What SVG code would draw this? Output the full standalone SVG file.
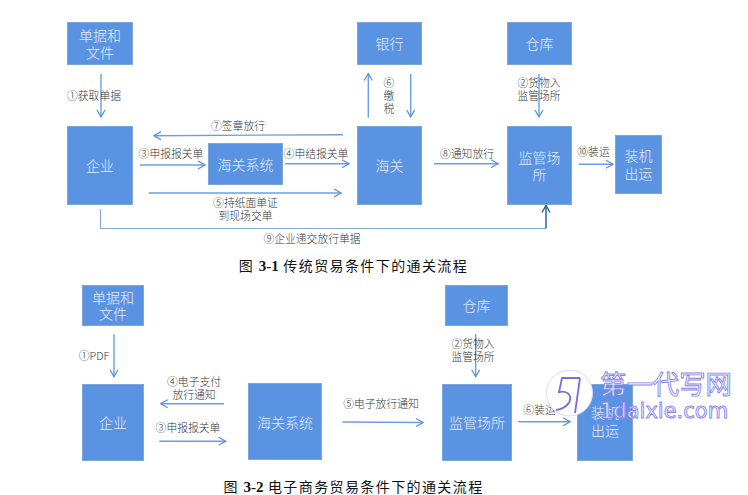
<svg xmlns="http://www.w3.org/2000/svg" width="748" height="495" viewBox="0 0 748 495">
<defs>
<marker id="arr" viewBox="0 0 10 10" refX="9" refY="5" markerWidth="10" markerHeight="10" markerUnits="userSpaceOnUse" orient="auto"><path d="M2,1 L9,5 L2,9" fill="none" stroke="#5b93dc" stroke-width="1.3"/></marker>
<marker id="arrd" viewBox="0 0 10 10" refX="9" refY="5" markerWidth="10" markerHeight="10" markerUnits="userSpaceOnUse" orient="auto"><path d="M2,1 L9,5 L2,9" fill="none" stroke="#2f6199" stroke-width="1.5"/></marker>
</defs>
<style>
text{font-family:"Liberation Serif","Noto Sans CJK SC",serif}
.b{fill:#5b93e3;stroke:#7ea6d8;stroke-width:1}
.n{font-family:"Noto Sans CJK SC",sans-serif;font-size:14px;font-weight:300;fill:#e3ecfa;text-anchor:middle}
.l{font-size:10.8px;font-weight:300;fill:#333;text-anchor:middle;font-family:"Noto Sans CJK SC","Liberation Serif",serif}
.c{font-size:14px;fill:#111;text-anchor:middle;font-family:"Noto Sans CJK SC",serif;letter-spacing:1.4px}
.c tspan{font-family:"Liberation Serif",serif;font-weight:bold;font-size:15px;letter-spacing:0}
.a{fill:none;stroke:#6a9fe0;stroke-width:1.4;marker-end:url(#arr)}
</style>
<rect width="748" height="495" fill="#fff"/>
<g id="fig1-docs"><rect class="b" x="67.5" y="22.5" width="65" height="42"/><text class="n" x="100" y="41">单据和</text><text class="n" x="100" y="58">文件</text></g>
<g id="fig1-enterprise"><rect class="b" x="67.5" y="126.5" width="65" height="78"/><text class="n" x="100" y="171">企业</text></g>
<g id="fig1-system"><rect class="b" x="208.5" y="143.5" width="74" height="41"/><text class="n" x="245.5" y="170">海关系统</text></g>
<g id="fig1-bank"><rect class="b" x="357.5" y="22.5" width="64" height="42"/><text class="n" x="389.5" y="49">银行</text></g>
<g id="fig1-customs"><rect class="b" x="357.5" y="126.5" width="64" height="78"/><text class="n" x="389.5" y="171">海关</text></g>
<g id="fig1-warehouse"><rect class="b" x="507.5" y="22.5" width="64" height="42"/><text class="n" x="539.5" y="49">仓库</text></g>
<g id="fig1-site"><rect class="b" x="507.5" y="126.5" width="64" height="78"/><text class="n" x="539.5" y="163">监管场</text><text class="n" x="539.5" y="180">所</text></g>
<g id="fig1-ship"><rect class="b" x="615.5" y="135.5" width="46" height="58"/><text class="n" x="638.5" y="161">装机</text><text class="n" x="638.5" y="179">出运</text></g>
<g id="connectors-fig1">
<path class="a" d="M101,74 V117"/>
<path class="a" d="M343,134.7 L154,135.7"/>
<path class="a" d="M140,165 H205"/>
<path class="a" d="M285,163.7 H349"/>
<path class="a" d="M148.7,193 H341"/>
<path d="M100.5,209 V228.5 H545" fill="none" stroke="#86a9d6" stroke-width="1.2"/>
<path d="M546,228.5 V205.5" fill="none" stroke="#2f6199" stroke-width="1.5" marker-end="url(#arrd)"/>
<path class="a" d="M368.3,117.7 V73.5"/>
<path class="a" d="M410.7,74 V117"/>
<path class="a" d="M434,163.7 H498"/>
<path class="a" d="M539,74 V117"/>
<path class="a" d="M578.7,164.3 H613"/>
</g>
<g id="labels-fig1">
<text class="l" x="94" y="100">①获取单据</text>
<text class="l" x="238" y="130">⑦签章放行</text>
<text class="l" x="171" y="158">③申报报关单</text>
<text class="l" x="316" y="158">④申结报关单</text>
<text class="l" x="245.5" y="207">⑤持纸面单证</text>
<text class="l" x="245.5" y="220">到现场交单</text>
<text class="l" x="312" y="243">⑨企业递交放行单据</text>
<text class="l" x="389" y="87">⑥</text>
<text class="l" x="389" y="100">缴</text>
<text class="l" x="389" y="113">税</text>
<text class="l" x="539" y="87">②货物入</text>
<text class="l" x="539" y="100">监管场所</text>
<text class="l" x="467" y="158">⑧通知放行</text>
<text class="l" x="593.5" y="156">⑩装运</text>
</g>
<text class="c" x="353.5" y="271">图 <tspan>3-1</tspan> 传统贸易条件下的通关流程</text>
<g id="fig2-docs"><rect class="b" x="82.5" y="285.5" width="61" height="40"/><text class="n" x="113" y="303">单据和</text><text class="n" x="113" y="319">文件</text></g>
<g id="fig2-enterprise"><rect class="b" x="82.5" y="384.5" width="61" height="76"/><text class="n" x="113" y="428">企业</text></g>
<g id="fig2-system"><rect class="b" x="248.5" y="383.5" width="73" height="76"/><text class="n" x="285" y="428">海关系统</text></g>
<g id="fig2-warehouse"><rect class="b" x="445.5" y="285.5" width="62" height="40"/><text class="n" x="476.5" y="311">仓库</text></g>
<g id="fig2-site"><rect class="b" x="442.5" y="384.5" width="69" height="76"/><text class="n" x="477" y="428">监管场所</text></g>
<g id="fig2-ship"><rect class="b" x="577.5" y="384.5" width="55" height="76"/><text class="n" x="605" y="418">装机</text><text class="n" x="605" y="436">出运</text></g>
<g id="connectors-fig2">
<path class="a" d="M114,334.3 V376.7"/>
<path class="a" d="M224,403.7 H160.7"/>
<path class="a" d="M159.3,441.3 H225.7"/>
<path class="a" d="M342.3,422 L423,422.5"/>
<path class="a" d="M475.7,334.3 V376.7"/>
<path class="a" d="M518.3,421.7 H570"/>
</g>
<g id="labels-fig2">
<text class="l" x="94" y="360">①PDF</text>
<text class="l" x="194" y="386">④电子支付</text>
<text class="l" x="194" y="399">放行通知</text>
<text class="l" x="188" y="432">③申报报关单</text>
<text class="l" x="381" y="408">⑤电子放行通知</text>
<text class="l" x="473" y="348">②货物入</text>
<text class="l" x="473" y="361">监管场所</text>
<text class="l" x="539.5" y="414">⑥装运</text>
</g>
<text class="c" x="353.5" y="492">图 <tspan>3-2</tspan> 电子商务贸易条件下的通关流程</text>
<g id="watermark">
<circle cx="569.5" cy="393" r="23" fill="#fff" stroke="#dcdcf8" stroke-width="1"/>
<path d="M580,378 H562 L559,392 C574,389 575,407 556,410 M580,378 L575,413" fill="none" stroke="#7a6be0" stroke-width="1.8"/>
<text x="600" y="394" font-size="26.4" fill="#fff" stroke="#8a82ea" stroke-width=".9" style="font-family:'Noto Sans CJK SC',sans-serif">第一代写网</text>
<text x="600" y="418" font-size="21" fill="#fff" stroke="#8a82ea" stroke-width=".9" style="font-family:'DejaVu Sans',sans-serif">1daixie.com</text>
</g>
</svg>
